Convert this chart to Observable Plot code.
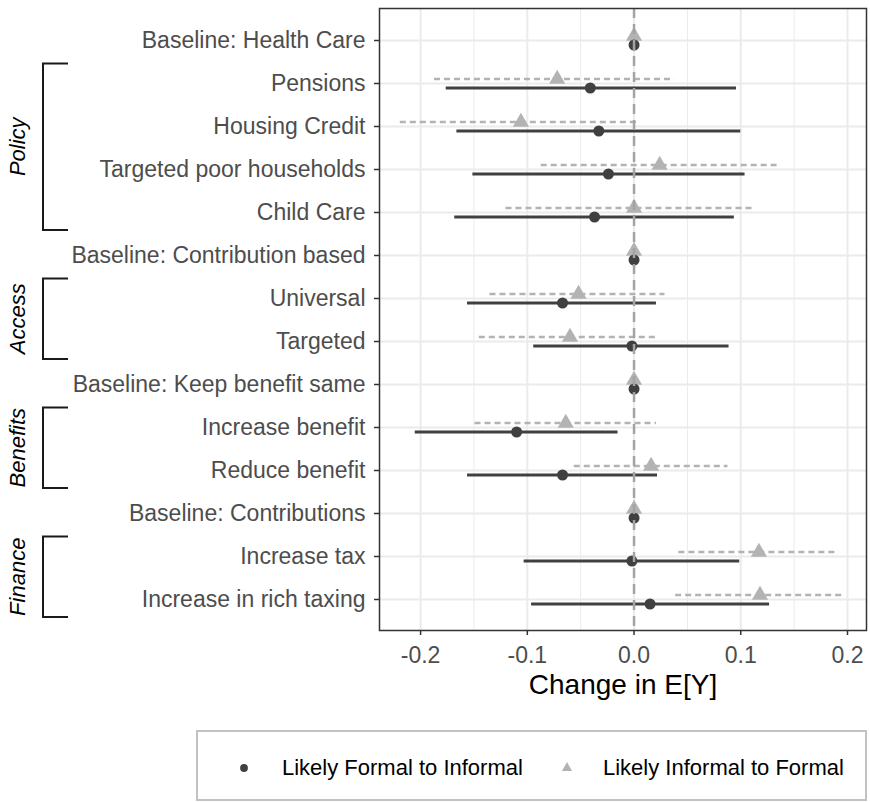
<!DOCTYPE html>
<html>
<head>
<meta charset="utf-8">
<script src="https://cdn.jsdelivr.net/npm/d3@7"></script>
<script src="https://cdn.jsdelivr.net/npm/@observablehq/plot@0.6"></script>
<style>
  html, body { margin: 0; padding: 0; background: #fff; }
  body { width: 870px; height: 802px; overflow: hidden; font-family: "Liberation Sans", Arial, sans-serif; }
  #chart svg { display: block; }
  #legend {
    position: relative;
    margin-left: 196px;
    margin-top: 2px;
    width: 671px;
    height: 71px;
    box-sizing: border-box;
    border: 2px solid #c2c2c2;
    font-size: 22px;
    color: #000;
  }
  #legend .item { position: absolute; top: 2px; height: 67px; display: flex; align-items: center; }
  #legend svg { position: absolute; overflow: visible; }
</style>
</head>
<body>
<div id="chart"></div>
<div id="legend"></div>
<script>
// ---- Data ----
const categories = [
  "Baseline: Health Care", "Pensions", "Housing Credit", "Targeted poor households", "Child Care",
  "Baseline: Contribution based", "Universal", "Targeted",
  "Baseline: Keep benefit same", "Increase benefit", "Reduce benefit",
  "Baseline: Contributions", "Increase tax", "Increase in rich taxing"
];
// Likely Formal to Informal (circles, solid)
const fiEst = [0, -0.041, -0.033, -0.024, -0.037, 0, -0.067, -0.002, 0, -0.110, -0.067, 0, -0.002, 0.015];
const fiLo  = [0, -0.176, -0.166, -0.151, -0.168, 0, -0.156, -0.094, 0, -0.205, -0.156, 0, -0.103, -0.096];
const fiHi  = [0,  0.096,  0.100,  0.104,  0.094, 0,  0.021,  0.089, 0, -0.015,  0.022, 0,  0.099,  0.127];
// Likely Informal to Formal (triangles, dashed)
const ifEst = [0, -0.072, -0.106,  0.024,  0.000, 0, -0.052, -0.060, 0, -0.064,  0.016, 0,  0.117,  0.118];
const ifLo  = [0, -0.187, -0.219, -0.087, -0.120, 0, -0.135, -0.145, 0, -0.149, -0.056, 0,  0.042,  0.039];
const ifHi  = [0,  0.038,  0.005,  0.134,  0.114, 0,  0.029,  0.020, 0,  0.021,  0.088, 0,  0.192,  0.198];
// Groups (brackets)
const groupNames = ["Policy", "Access", "Benefits", "Finance"];
const groupStart = ["Pensions", "Universal", "Increase benefit", "Increase tax"];
const groupEnd   = ["Child Care", "Targeted", "Reduce benefit", "Increase in rich taxing"];
// Axis ticks
const xTicks = [-0.2, -0.1, 0.0, 0.1, 0.2];
const xMinor = [-0.15, -0.05, 0.05, 0.15];
const seriesNames = ["Likely Formal to Informal", "Likely Informal to Formal"];

const fi = categories.map((c, i) => ({cat: c, est: fiEst[i], lo: fiLo[i], hi: fiHi[i]}));
const inf = categories.map((c, i) => ({cat: c, est: ifEst[i], lo: ifLo[i], hi: ifHi[i]}));

const FONT = "'Liberation Sans', Arial, sans-serif";
const DARK = "#404040", LIGHT = "#b3b3b3";

const brackets = (index, scales) => {
  const g = d3.create("svg:g");
  groupNames.forEach((name, i) => {
    const y1 = scales.y(groupStart[i]) - 19.5;
    const y2 = scales.y(groupEnd[i]) + 18;
    g.append("path")
      .attr("d", `M68,${y1}H43V${y2}H68`)
      .attr("fill", "none").attr("stroke", "#1a1a1a").attr("stroke-width", 2);
    g.append("text")
      .attr("transform", `translate(25,${(y1 + y2) / 2}) rotate(-90)`)
      .attr("text-anchor", "middle")
      .attr("font-style", "italic")
      .attr("font-size", 22)
      .attr("font-family", FONT)
      .attr("fill", "#000")
      .text(name);
  });
  return g.node();
};

const plot = Plot.plot({
  width: 870,
  height: 728,
  marginLeft: 379,
  marginRight: 4,
  marginTop: 8,
  marginBottom: 98,
  style: {fontFamily: FONT, fontSize: "23px", background: "#fff", overflow: "visible"},
  x: {domain: [-0.2385, 0.2178]},
  y: {type: "point", domain: categories, padding: 0.6},
  marks: [
    Plot.gridX(xMinor, {stroke: "#ebebeb", strokeOpacity: 1, strokeWidth: 1}),
    Plot.gridX(xTicks, {stroke: "#ebebeb", strokeOpacity: 1, strokeWidth: 2}),
    Plot.gridY(categories, {stroke: "#ebebeb", strokeOpacity: 1, strokeWidth: 2}),
    Plot.ruleY(inf.filter(d => d.lo !== d.hi), {y: "cat", x1: "lo", x2: "hi", dy: -4.5, stroke: LIGHT, strokeWidth: 2.4, strokeDasharray: "6,4"}),
    Plot.dot(inf, {x: "est", y: "cat", dy: -4.5, symbol: "triangle", r: 6, fill: LIGHT, stroke: "none"}),
    Plot.ruleY(fi.filter(d => d.lo !== d.hi), {y: "cat", x1: "lo", x2: "hi", dy: 4.5, stroke: DARK, strokeWidth: 2.8}),
    Plot.dot(fi, {x: "est", y: "cat", dy: 4.5, r: 5.5, fill: DARK, stroke: "none"}),
    Plot.ruleX([0], {stroke: "#a3a3a3", strokeWidth: 2.5, strokeDasharray: "10,6"}),
    Plot.frame({stroke: "#333333", strokeWidth: 1.5}),
    Plot.axisX(xTicks, {tickSize: 5, tickPadding: 11, tickFormat: d => d.toFixed(1), stroke: "#333333", strokeWidth: 1.5, fill: "#4d4d4d", fontSize: 23, label: null}),
    Plot.axisY({tickSize: 5, tickPadding: 9, stroke: "#333333", strokeWidth: 1.5, fill: "#4d4d4d", fontSize: 23, label: null}),
    Plot.text(["Change in E[Y]"], {frameAnchor: "bottom", dy: 55, lineAnchor: "middle", fontSize: 28, fill: "#000"}),
    brackets
  ]
});
document.getElementById("chart").appendChild(plot);

// ---- Legend ----
const legend = document.getElementById("legend");
const items = [
  {name: seriesNames[0], sym: "circle", color: DARK, symX: 46, textX: 84},
  {name: seriesNames[1], sym: "triangle", color: LIGHT, symX: 369, textX: 405}
];
items.forEach(it => {
  const svg = d3.select(legend).append("svg")
    .attr("width", 1).attr("height", 1)
    .style("left", it.symX + "px").style("top", "36px");
  if (it.sym === "circle") {
    svg.append("circle").attr("r", 3.9).attr("fill", it.color);
  } else {
    svg.append("path").attr("d", d3.symbol(d3.symbolTriangle, 45)()).attr("fill", it.color);
  }
  const span = document.createElement("div");
  span.className = "item";
  span.style.left = it.textX + "px";
  span.textContent = it.name;
  legend.appendChild(span);
});
</script>
</body>
</html>
